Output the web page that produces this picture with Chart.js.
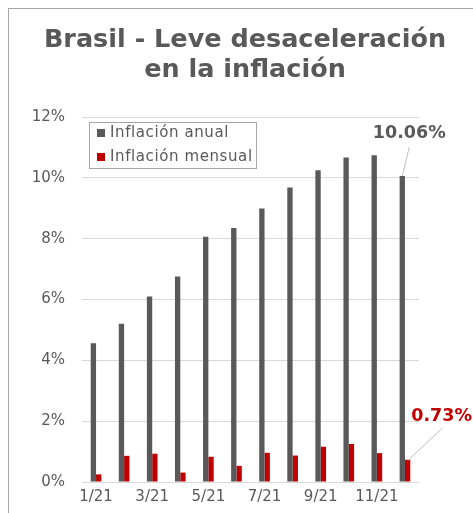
<!DOCTYPE html>
<html>
<head>
<meta charset="utf-8">
<script src="https://cdn.jsdelivr.net/npm/chart.js@4.4.1/dist/chart.umd.min.js"></script>
<style>
  html, body { margin: 0; padding: 0; background: #fff; overflow: hidden; }
  #frame { position: absolute; left: 8px; top: 8px; width: 600px; height: 600px; border: 1px solid #a6a6a6; box-sizing: border-box; }
  #wrap { position: absolute; left: 0; top: 0; width: 473px; height: 513px; }
</style>
</head>
<body>
<div id="frame"></div>
<div id="wrap"><canvas id="myChart" width="473" height="513"></canvas></div>
<script>
const titulo = ['Brasil - Leve desaceleración', 'en la inflación'];
const meses = ['1/21', '2/21', '3/21', '4/21', '5/21', '6/21', '7/21', '8/21', '9/21', '10/21', '11/21', '12/21'];
const inflacionAnual = [4.56, 5.20, 6.10, 6.76, 8.06, 8.35, 8.99, 9.68, 10.25, 10.67, 10.74, 10.06];
const inflacionMensual = [0.25, 0.86, 0.93, 0.31, 0.83, 0.53, 0.96, 0.87, 1.16, 1.25, 0.95, 0.73];
const yTicks = [0, 2, 4, 6, 8, 10, 12];

const gris = '#595959';
const rojo = '#c00000';
const fuente = "'DejaVu Sans', Verdana, sans-serif";

// titulo centrado sobre todo el recuadro (no solo el area del grafico)
const tituloPlugin = {
    id: 'tituloCentrado',
    afterDraw(chart) {
        const c = chart.ctx;
        c.save();
        c.font = 'bold 25.5px ' + fuente;
        c.fillStyle = gris;
        c.textAlign = 'center';
        c.textBaseline = 'middle';
        titulo.forEach((t, i) => c.fillText(t, 245, 40 + i * 30));
        c.restore();
    }
};

// leyenda con recuadro dentro del area del grafico
const leyendaPlugin = {
    id: 'leyendaCaja',
    afterDraw(chart) {
        const c = chart.ctx;
        const a = chart.chartArea;
        const x = a.left + 7, y = a.top + 5;
        c.save();
        c.fillStyle = '#fff';
        c.fillRect(x, y, 167, 46);
        c.strokeStyle = '#a6a6a6';
        c.lineWidth = 1;
        c.strokeRect(x + 0.5, y + 0.5, 167, 46);
        c.font = '15px ' + fuente;
        c.letterSpacing = '0.6px';
        c.textBaseline = 'middle';
        chart.data.datasets.forEach((ds, i) => {
            const ry = y + 11 + i * 24;
            c.fillStyle = ds.backgroundColor;
            c.fillRect(x + 8, ry - 4, 8, 8);
            c.fillStyle = gris;
            c.fillText(ds.label, x + 21, ry);
        });
        c.restore();
    }
};

// etiquetas del ultimo dato con linea guia
const etiquetasPlugin = {
    id: 'etiquetasFinal',
    afterDatasetsDraw(chart) {
        const c = chart.ctx;
        const n = meses.length - 1;
        const b0 = chart.getDatasetMeta(0).data[n];
        const b1 = chart.getDatasetMeta(1).data[n];
        c.save();
        c.strokeStyle = '#bfbfbf';
        c.lineWidth = 1;
        c.beginPath();
        c.moveTo(b0.x, b0.y);
        c.lineTo(b0.x + 7, b0.y - 29);
        c.moveTo(b1.x + 1, b1.y);
        c.lineTo(b1.x + 35, b1.y - 32);
        c.stroke();
        c.font = 'bold 17.5px ' + fuente;
        c.textAlign = 'center';
        c.textBaseline = 'middle';
        c.fillStyle = gris;
        c.fillText(inflacionAnual[n].toFixed(2) + '%', b0.x + 7, b0.y - 43);
        c.fillStyle = rojo;
        c.fillText(inflacionMensual[n].toFixed(2) + '%', b1.x + 34, b1.y - 43);
        c.restore();
    }
};

const ctx = document.getElementById('myChart').getContext('2d');
const myChart = new Chart(ctx, {
    type: 'bar',
    data: {
        labels: meses,
        datasets: [{
            label: 'Inflación anual',
            data: inflacionAnual,
            backgroundColor: gris
        }, {
            label: 'Inflación mensual',
            data: inflacionMensual,
            backgroundColor: rojo
        }]
    },
    options: {
        responsive: false,
        animation: false,
        layout: { padding: { left: 0, right: 54, top: 117, bottom: 0 } },
        datasets: { bar: { categoryPercentage: 0.38, barPercentage: 1 } },
        plugins: {
            legend: { display: false },
            tooltip: { enabled: false },
            title: { display: false }
        },
        scales: {
            x: {
                grid: { display: false, drawTicks: false },
                border: { display: false },
                ticks: {
                    color: gris,
                    font: { family: fuente, size: 15 },
                    padding: 6,
                    autoSkip: false,
                    maxRotation: 0,
                    callback: (v, i) => i % 2 === 0 ? meses[i] : ''
                },
                afterFit: s => { s.height = 31; }
            },
            y: {
                min: 0,
                max: 12,
                afterBuildTicks: s => { s.ticks = yTicks.map(v => ({ value: v })); },
                grid: { color: '#d9d9d9', drawTicks: false },
                border: { display: false },
                ticks: {
                    color: gris,
                    font: { family: fuente, size: 15 },
                    padding: 17,
                    callback: v => v + '%'
                },
                afterFit: s => { s.width = 82; }
            }
        }
    },
    plugins: [tituloPlugin, leyendaPlugin, etiquetasPlugin]
});
</script>
</body>
</html>
